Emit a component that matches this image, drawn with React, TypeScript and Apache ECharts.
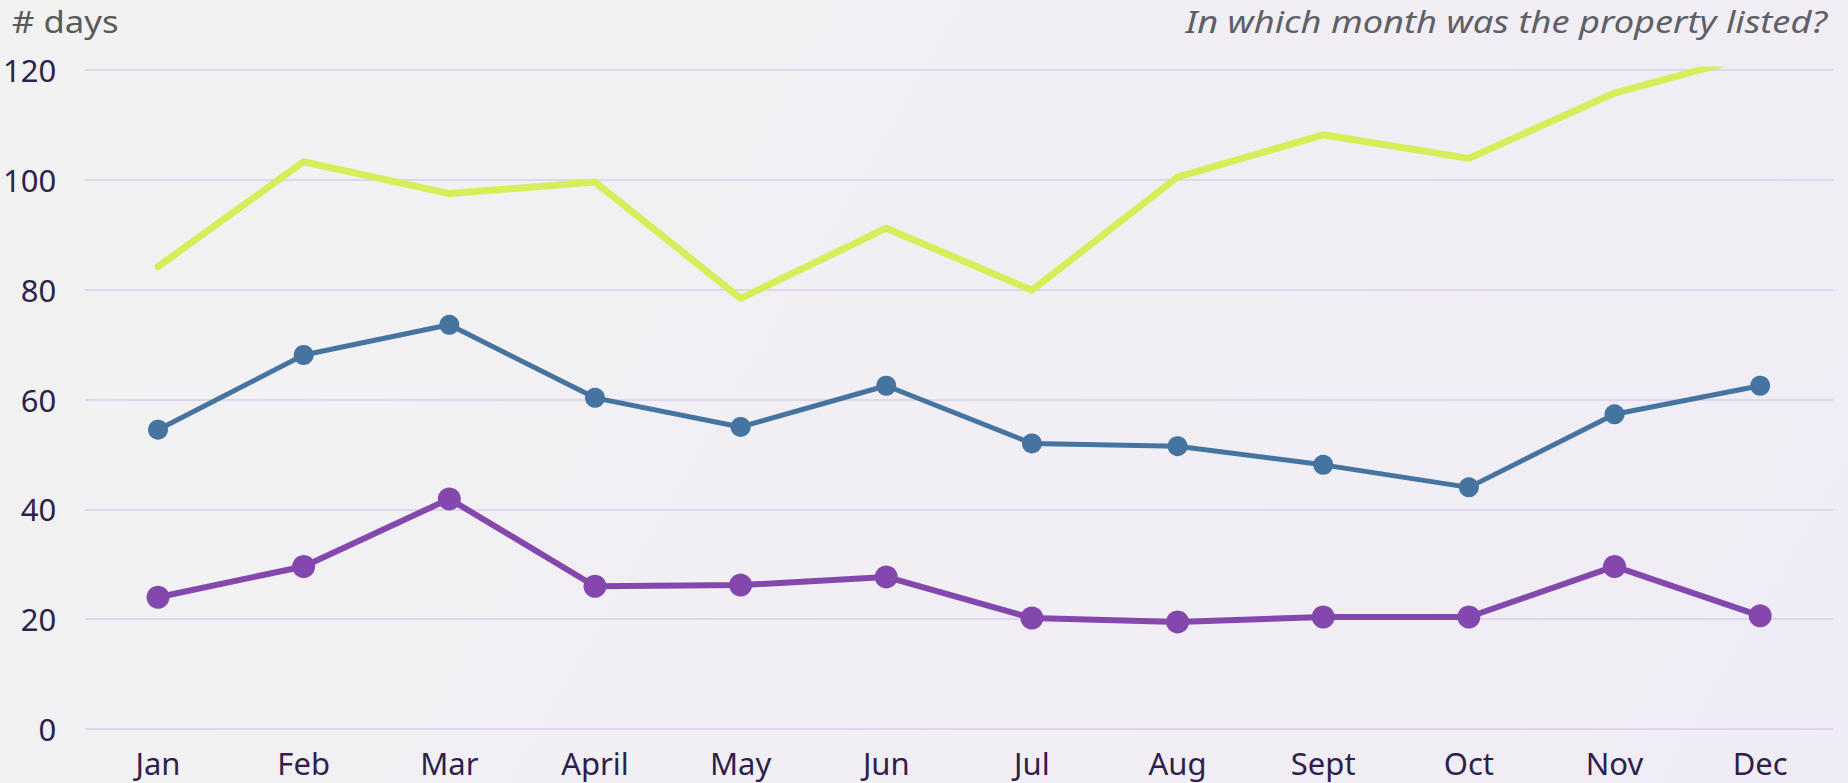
import React, { useEffect, useRef } from "react";
import * as echarts from "echarts";

const months = ["Jan", "Feb", "Mar", "April", "May", "Jun", "Jul", "Aug", "Sept", "Oct", "Nov", "Dec"];
const yellowSeries = [84.2, 103.3, 97.5, 99.6, 78.4, 91.2, 79.9, 100.5, 108.2, 103.9, 115.8, 123];
const blueSeries = [54.5, 68.1, 73.6, 60.3, 55.0, 62.5, 52.0, 51.5, 48.1, 44.0, 57.3, 62.5];
const purpleSeries = [24.0, 29.6, 41.9, 26.0, 26.2, 27.7, 20.2, 19.5, 20.4, 20.4, 29.6, 20.6];
const yTicks = { min: 0, max: 120, interval: 20 };
const yTitle = "# days";
const subtitle = "In which month was the property listed?";

const FONT = "'Noto Sans', sans-serif";

export default function App() {
  const ref = useRef<HTMLDivElement>(null);
  useEffect(() => {
    if (!ref.current) return;
    const chart = echarts.init(ref.current, undefined, { renderer: "svg" });
    chart.setOption({
      animation: false,
      backgroundColor: "transparent",
      grid: { left: 78, right: 15, top: 70, bottom: 54, containLabel: false },
      graphic: [
        {
          type: "text",
          x: 12,
          y: 21,
          scaleX: 1.12,
          style: {
            text: yTitle,
            font: `400 31px ${FONT}`,
            fill: "#5a5a5a",
            textAlign: "left",
            textVerticalAlign: "middle",
          },
        },
        {
          type: "text",
          x: 1827,
          y: 21,
          scaleX: 1.17,
          style: {
            text: subtitle,
            font: `italic 400 31px ${FONT}`,
            fill: "#5f5f66",
            textAlign: "right",
            textVerticalAlign: "middle",
          },
        },
      ],
      xAxis: {
        type: "category",
        data: months,
        boundaryGap: true,
        axisLine: { show: false },
        axisTick: { show: false },
        axisLabel: {
          color: "#2e1f4b",
          fontFamily: FONT,
          fontSize: 31,
          margin: 18,
          interval: 0,
        },
        splitLine: { show: false },
      },
      yAxis: {
        type: "value",
        min: yTicks.min,
        max: yTicks.max,
        interval: yTicks.interval,
        axisLine: { show: false },
        axisTick: { show: false },
        axisLabel: {
          color: "#2e1f4b",
          fontFamily: FONT,
          fontSize: 31,
          margin: 29,
        },
        splitLine: { show: true, lineStyle: { color: "#dfd5ee", width: 2 } },
      },
      series: [
        {
          type: "line",
          data: yellowSeries,
          showSymbol: false,
          symbol: "none",
          clip: true,
          lineStyle: { color: "#d5ef5a", width: 7, cap: "round", join: "round" },
          itemStyle: { color: "#d5ef5a" },
          z: 2,
        },
        {
          type: "line",
          data: blueSeries,
          symbol: "circle",
          symbolSize: 20,
          lineStyle: { color: "#4574a1", width: 5 },
          itemStyle: { color: "#4574a1" },
          z: 3,
        },
        {
          type: "line",
          data: purpleSeries,
          symbol: "circle",
          symbolSize: 23,
          lineStyle: { color: "#8347ad", width: 6 },
          itemStyle: { color: "#8347ad" },
          z: 4,
        },
      ],
    });
    return () => chart.dispose();
  }, []);
  return (
    <div
      ref={ref}
      style={{
        position: "fixed",
        left: 0,
        top: 0,
        width: 1848,
        height: 783,
        background: "linear-gradient(120deg, #f2f2f2 0%, #f1eff4 50%, #f0ecf6 100%)",
      }}
    />
  );
}
